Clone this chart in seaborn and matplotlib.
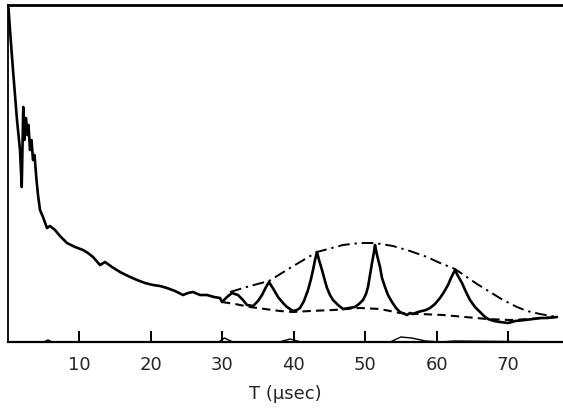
import matplotlib
matplotlib.use("Agg")
import matplotlib.pyplot as plt
import numpy as np
import pandas as pd
import seaborn as sns

# Recorded signal vs. time (T in microseconds, amplitude in arbitrary units)
signal_t = [0.07, 0.28, 0.70, 1.26, 1.68, 1.92, 2.14, 2.31, 2.52, 2.73, 2.87, 3.08,
            3.29, 3.50, 3.71, 3.99, 4.20, 4.48, 4.90, 5.46, 5.88, 6.58, 7.28, 8.26,
            9.38, 10.50, 11.20, 11.90, 12.88, 13.58, 14.56, 15.68, 16.80, 18.06,
            19.18, 20.30, 21.28, 22.26, 23.38, 24.50, 25.20, 25.90, 26.88, 27.86,
            28.84, 29.68, 29.96, 30.66, 31.36, 32.20, 32.90, 33.46, 34.30, 35.00,
            35.56, 36.12, 36.54, 37.24, 37.80, 38.50, 39.06, 39.90, 40.46, 40.88,
            41.44, 42.00, 42.42, 42.70, 42.98, 43.26, 43.54, 43.96, 44.38, 44.66,
            45.08, 45.50, 46.20, 46.90, 47.74, 48.58, 49.14, 49.70, 50.12, 50.40,
            50.68, 50.96, 51.24, 51.38, 51.66, 52.08, 52.36, 52.78, 53.20, 53.76,
            54.32, 54.88, 55.86, 56.28, 56.70, 57.40, 57.96, 58.52, 59.08, 59.78,
            60.48, 61.04, 61.60, 62.02, 62.58, 63.00, 63.56, 64.12, 64.68, 65.38,
            66.08, 66.64, 67.20, 68.04, 68.88, 70.00, 70.56, 70.98, 72.38, 73.50,
            74.48, 75.46, 76.86]
signal_y = [334, 312, 272, 222, 192, 155, 235, 202, 224, 207, 217, 192,
            202, 182, 187, 162, 147, 132, 125, 114, 116, 112, 106, 99,
            95, 92, 89, 85, 77, 80, 75, 70, 66, 62,
            59, 57, 56, 54, 51, 47, 49, 50, 47, 47,
            45, 44, 40, 45, 49, 47, 42, 37, 36, 41,
            47, 55, 60, 52, 45, 39, 35, 31, 32, 34,
            41, 52, 63, 72, 82, 90, 82, 72, 61, 54,
            47, 42, 37, 33, 34, 35, 38, 42, 48, 55,
            67, 79, 90, 97, 87, 75, 64, 55, 47, 40,
            34, 30, 27, 29, 28, 30, 31, 32, 34, 38,
            44, 50, 57, 64, 72, 66, 59, 50, 42, 35,
            30, 26, 23, 21, 20, 19, 20, 21, 22, 23,
            24, 24, 25]

# Upper envelope through the peaks (dash-dot)
upper_t = [31.08, 33.88, 36.54, 39.48, 43.26, 46.90, 49.28, 51.38, 53.90, 56.28,
           58.66, 60.48, 62.58, 65.66, 67.48, 69.30, 71.26, 72.66, 74.48, 76.86]
upper_y = [50, 56, 61, 74, 90, 97, 99, 99, 96, 91,
           85, 79, 73, 58, 50, 42, 35, 31, 28, 25]

# Lower envelope (dashed)
lower_t = [29.96, 31.78, 33.88, 35.98, 38.08, 39.90, 42.28, 45.50, 49.28, 52.08,
           54.88, 57.68, 60.90, 63.98, 67.06, 70.28, 73.08, 76.86]
lower_y = [40, 38, 35, 33, 31, 30, 31, 32, 34, 33,
           29, 28, 27, 25, 23, 22, 23, 25]

# Faint reference trace lying on the time axis
base_t = [0, 5.0, 5.6, 6.2, 29.5, 30.3, 31.5, 38.0, 39.5, 41.0,
          53.5, 55.0, 56.5, 58.5, 60.5, 62.5, 77.7]
base_y = [0, 0, 2, 0, 0, 4, 0, 0, 3, 0,
          0, 5, 4, 1, 0, 1, 0]

x_ticks = [10, 20, 30, 40, 50, 60, 70]
x_label = "T (\u03bcsec)"

sns.set_style("white")
plt.rcParams["font.family"] = ["DejaVu Sans"]

fig = plt.figure(figsize=(5.63, 4.11), dpi=100)
ax = fig.add_axes([8 / 563, 69 / 411, 555 / 563, 337 / 411])

sig = pd.DataFrame({"T": signal_t, "A": signal_y})
upp = pd.DataFrame({"T": upper_t, "A": upper_y})
low = pd.DataFrame({"T": lower_t, "A": lower_y})
bas = pd.DataFrame({"T": base_t, "A": base_y})

sns.lineplot(data=bas, x="T", y="A", sort=False, ax=ax, color="black", lw=1.0)
sns.lineplot(data=low, x="T", y="A", sort=False, ax=ax, color="black", lw=1.5,
             linestyle=(0, (4, 2.5)))
sns.lineplot(data=upp, x="T", y="A", sort=False, ax=ax, color="black", lw=1.4,
             linestyle=(0, (6, 2.5, 1.2, 2.5)))
sns.lineplot(data=sig, x="T", y="A", sort=False, ax=ax, color="black", lw=1.9)

ax.set_xlim(0, 77.7)
ax.set_ylim(0, 337)
ax.set_xticks(x_ticks)
ax.set_xticklabels([str(v) for v in x_ticks], fontsize=13)
ax.set_yticks([])
ax.set_xlabel(x_label, fontsize=13, labelpad=8)
ax.set_ylabel("")

for side in ["left", "bottom", "top"]:
    ax.spines[side].set_visible(True)
    ax.spines[side].set_color("black")
ax.spines["left"].set_linewidth(1.3)
ax.spines["bottom"].set_linewidth(1.6)
ax.spines["top"].set_linewidth(2.0)
ax.spines["right"].set_visible(False)

ax.tick_params(axis="x", direction="in", length=8, width=1.4, pad=10,
               color="black", bottom=True)

fig.savefig("out.png", dpi=100)
